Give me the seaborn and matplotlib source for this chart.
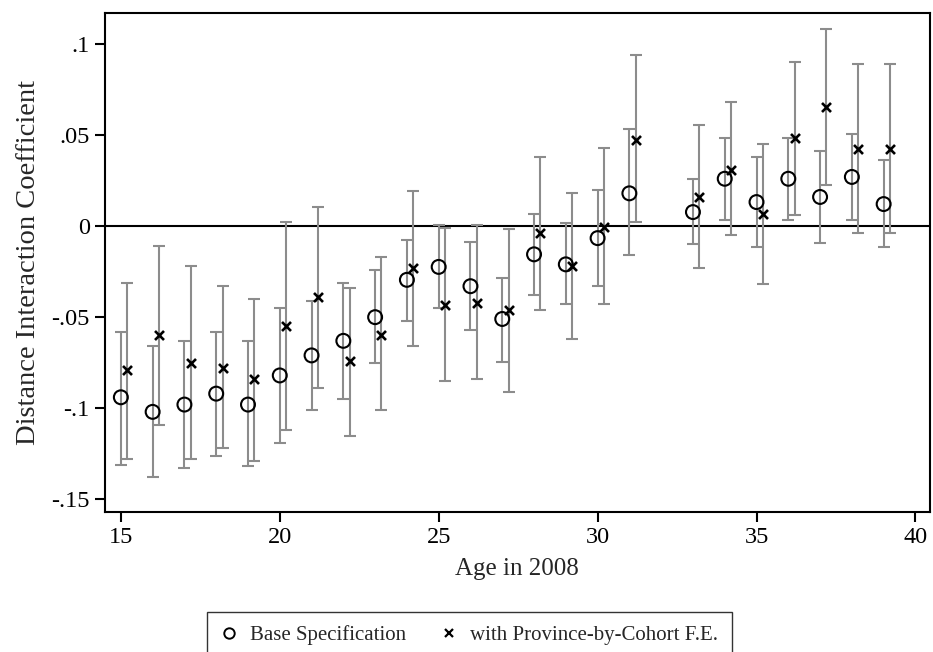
import matplotlib
matplotlib.use('Agg')
import matplotlib.pyplot as plt
import matplotlib.ticker as mticker
from matplotlib.lines import Line2D
import numpy as np
import pandas as pd
import seaborn as sns

# age of cohort in 2008 (no estimate for 32)
ages = [15, 16, 17, 18, 19, 20, 21, 22, 23, 24, 25, 26, 27, 28, 29, 30, 31,
        33, 34, 35, 36, 37, 38, 39]

# base specification: point estimate and 95% CI
base_coef = [-0.094, -0.102, -0.098, -0.092, -0.098, -0.082, -0.071, -0.063,
             -0.050, -0.0295, -0.0224, -0.033, -0.051, -0.0155, -0.021, -0.0066,
             0.018, 0.0077, 0.026, 0.0132, 0.026, 0.016, 0.027, 0.0121]
base_lo = [-0.131, -0.138, -0.133, -0.126, -0.132, -0.119, -0.101, -0.095,
           -0.075, -0.052, -0.045, -0.057, -0.0745, -0.038, -0.043, -0.033,
           -0.016, -0.010, 0.0033, -0.0116, 0.0033, -0.0094, 0.0033, -0.0116]
base_hi = [-0.058, -0.066, -0.063, -0.058, -0.063, -0.045, -0.041, -0.031,
           -0.024, -0.0077, 0.0006, -0.0088, -0.0285, 0.0066, 0.0017, 0.0198,
           0.0535, 0.026, 0.0485, 0.038, 0.0485, 0.041, 0.0507, 0.0364]

# with province-by-cohort fixed effects
fe_coef = [-0.079, -0.060, -0.075, -0.078, -0.084, -0.055, -0.039, -0.074,
           -0.060, -0.023, -0.0433, -0.042, -0.046, -0.004, -0.022, -0.0005,
           0.0475, 0.016, 0.031, 0.0066, 0.0485, 0.0656, 0.0424, 0.0424]
fe_lo = [-0.128, -0.109, -0.128, -0.122, -0.129, -0.112, -0.089, -0.115,
         -0.101, -0.066, -0.085, -0.084, -0.091, -0.046, -0.062, -0.043,
         0.002, -0.0232, -0.005, -0.032, 0.006, 0.0226, -0.004, -0.004]
fe_hi = [-0.031, -0.011, -0.022, -0.033, -0.040, 0.002, 0.0105, -0.034,
         -0.017, 0.0195, -0.001, 0.0004, -0.0017, 0.038, 0.018, 0.043,
         0.094, 0.0556, 0.068, 0.045, 0.090, 0.108, 0.0888, 0.0888]

labels = ['Base Specification', 'with Province-by-Cohort F.E.']
offset = 0.2

base = pd.DataFrame({'x': np.array(ages, dtype=float), 'coef': base_coef,
                     'lo': base_lo, 'hi': base_hi})
fe = pd.DataFrame({'x': np.array(ages, dtype=float) + offset, 'coef': fe_coef,
                   'lo': fe_lo, 'hi': fe_hi})

sns.set_theme(style="white")
plt.rcParams['font.family'] = ['Liberation Serif', 'DejaVu Serif']

fig = plt.figure(figsize=(9.33, 6.52), dpi=100)
ax = fig.add_axes([0.1125, 0.2147, 0.884, 0.7653])

grey = '#8c8c8c'
for d in (base, fe):
    ax.errorbar(d.x, d.coef, yerr=[d.coef - d.lo, d.hi - d.coef], fmt='none',
                ecolor=grey, elinewidth=1.5, capsize=4.3, capthick=1.5, zorder=2)

ax.axhline(0, color='black', lw=1.5, zorder=1)

sns.scatterplot(data=base, x='x', y='coef', ax=ax, marker='o', s=100,
                facecolors='none', edgecolor='black', linewidth=1.5, zorder=3)
sns.scatterplot(data=fe, x='x', y='coef', ax=ax, marker='x', s=42,
                color='black', linewidth=1.9, zorder=3)

ax.set_xlim(14.5, 40.45)
ax.set_ylim(-0.157, 0.117)
ax.set_xticks([15, 20, 25, 30, 35, 40])
ax.set_yticks([-0.15, -0.1, -0.05, 0, 0.05, 0.1])
ax.yaxis.set_major_formatter(mticker.FuncFormatter(
    lambda v, p: '0' if abs(v) < 1e-9 else ('%g' % round(v, 3)).replace('0.', '.')))

for s in ax.spines.values():
    s.set_color('black')
    s.set_linewidth(1.5)
ax.tick_params(axis='both', which='major', direction='out', length=7, width=1.5,
               color='black', labelsize=17.5, left=True, bottom=True,
               pad=4, colors='black')
ax.set_xlabel('Age in 2008', fontsize=18, labelpad=7)
ax.set_ylabel('Distance Interaction Coefficient', fontsize=20.5, labelpad=7)

handles = [
    Line2D([], [], ls='none', marker='o', markersize=7.5, markerfacecolor='none',
           markeredgecolor='black', markeredgewidth=1.4),
    Line2D([], [], ls='none', marker='x', markersize=6, color='black',
           markeredgewidth=1.6),
]
leg = fig.legend(handles, labels, loc='upper center', bbox_to_anchor=(0.503, 0.0613),
                 borderaxespad=0, ncol=2, fontsize=15, frameon=True, fancybox=False,
                 edgecolor='black', handlelength=0.8, handletextpad=0.6,
                 columnspacing=1.7, borderpad=0.65)
leg.get_frame().set_linewidth(1.0)

fig.savefig('out.png', dpi=100)
